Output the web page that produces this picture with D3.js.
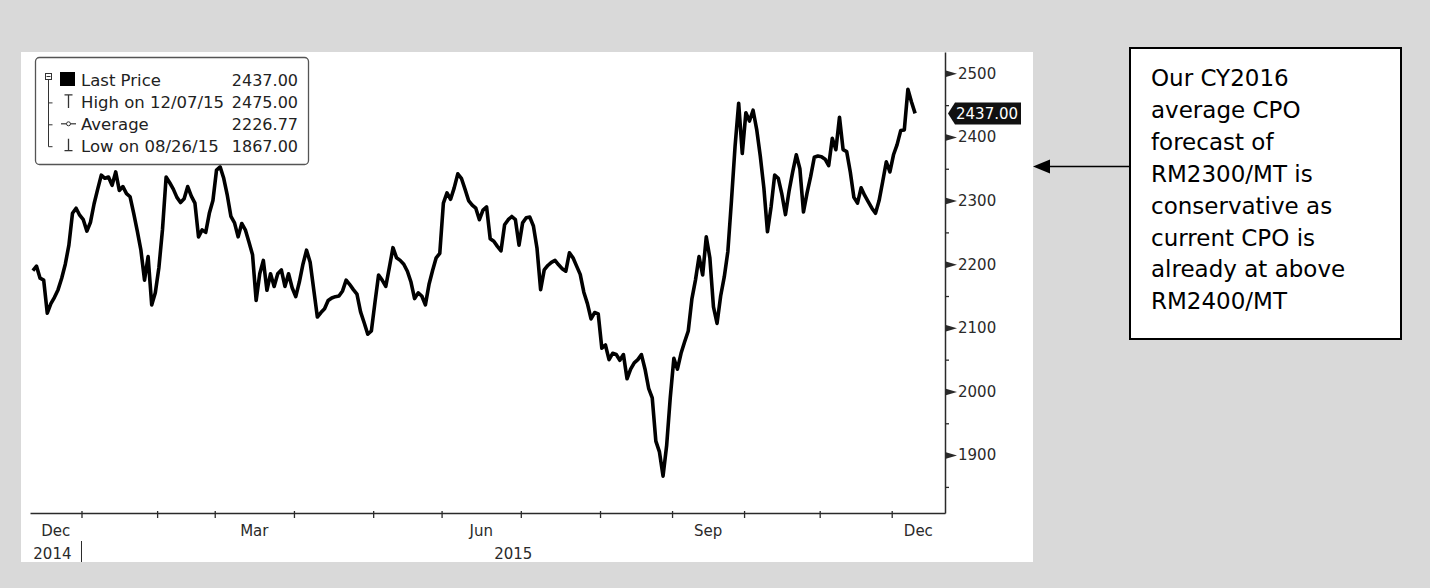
<!DOCTYPE html>
<html>
<head>
<meta charset="utf-8">
<script src="https://cdn.jsdelivr.net/npm/d3@7"></script>
<style>
  html, body { margin: 0; padding: 0; background: #d9d9d9; }
  svg { display: block; font-family: "DejaVu Sans", Verdana, sans-serif; }
</style>
</head>
<body>
<svg id="chart" width="1430" height="588"></svg>
<script>
/* ---------- Data ---------- */
// daily closes (RM/MT), one array per month, 11 Dec 2014 .. 9 Dec 2015
const closeDec14 = [2190, 2197, 2178, 2175, 2123, 2138, 2148, 2160, 2178, 2200, 2230, 2280, 2288, 2277];
const closeJan15 = [2270, 2252, 2266, 2295, 2318, 2340, 2335, 2337, 2324, 2345, 2316, 2322, 2311, 2306, 2280, 2252, 2222, 2175, 2212, 2136, 2155];
const closeFeb15 = [2195, 2255, 2337, 2328, 2318, 2305, 2297, 2303, 2322, 2307, 2296, 2243, 2254, 2250, 2280, 2300];
const closeMar15 = [2348, 2353, 2335, 2308, 2275, 2265, 2243, 2264, 2254, 2235, 2215, 2143, 2185, 2206, 2159, 2185, 2165, 2185, 2191, 2165, 2185, 2163];
const closeApr15 = [2149, 2172, 2200, 2222, 2203, 2160, 2117, 2124, 2130, 2143, 2147, 2149, 2150, 2158, 2175, 2168, 2160, 2153, 2125, 2108, 2090, 2095];
const closeMay15 = [2140, 2183, 2175, 2165, 2195, 2226, 2210, 2206, 2200, 2189, 2172, 2146, 2155, 2150, 2136, 2168, 2190, 2210, 2217];
const closeJun15 = [2296, 2312, 2302, 2320, 2342, 2335, 2318, 2300, 2293, 2288, 2270, 2285, 2290, 2240, 2236, 2228, 2221, 2262, 2270, 2275, 2270, 2230];
const closeJul15 = [2265, 2273, 2274, 2260, 2225, 2160, 2191, 2198, 2203, 2206, 2199, 2193, 2189, 2218, 2210, 2197, 2184, 2156, 2138, 2114, 2124, 2122];
const closeAug15 = [2068, 2073, 2050, 2060, 2058, 2049, 2058, 2020, 2035, 2045, 2050, 2058, 2035, 2005, 1990, 1922, 1905, 1867, 1915, 1990];
const closeSep15 = [2052, 2035, 2060, 2078, 2095, 2145, 2175, 2212, 2183, 2243, 2210, 2133, 2107, 2150, 2180, 2220, 2300, 2385, 2453, 2374];
const closeOct15 = [2438, 2425, 2442, 2412, 2370, 2320, 2251, 2290, 2340, 2335, 2310, 2278, 2315, 2345, 2372, 2350, 2282, 2312, 2338, 2368, 2370];
const closeNov15 = [2369, 2365, 2355, 2398, 2380, 2431, 2380, 2377, 2345, 2305, 2296, 2320, 2308, 2298, 2288, 2280, 2300, 2330, 2361, 2345];
const closeDec15 = [2372, 2388, 2410, 2411, 2475, 2455, 2437];

const monthlyCloses = [closeDec14, closeJan15, closeFeb15, closeMar15, closeApr15, closeMay15,
    closeJun15, closeJul15, closeAug15, closeSep15, closeOct15, closeNov15, closeDec15];
const monthLabels = ["Dec", "Jan", "Feb", "Mar", "Apr", "May", "Jun", "Jul", "Aug", "Sep", "Oct", "Nov", "Dec"];
const monthYears = [2014, 2015, 2015, 2015, 2015, 2015, 2015, 2015, 2015, 2015, 2015, 2015, 2015];
const labelledMonths = ["Dec", "Mar", "Jun", "Sep"];

const yMajorTicks = [1900, 2000, 2100, 2200, 2300, 2400, 2500];
const yMinorTicks = [1850, 1950, 2050, 2150, 2250, 2350, 2450];

const legendLabels = ["Last Price", "High on 12/07/15", "Average", "Low on 08/26/15"];
const legendValues = [2437.00, 2475.00, 2226.77, 1867.00];
const legendIcons = ["square", "high", "average", "low"];

const noteLines = ["Our CY2016", "average CPO", "forecast of", "RM2300/MT is",
    "conservative as", "current CPO is", "already at above", "RM2400/MT"];

/* ---------- Layout ---------- */
const svg = d3.select("#chart");
const panel = {x: 21, y: 52, w: 1012, h: 510};
const plot = {left: 30, right: 945, top: 52, bottom: 513};
const axisColor = "#2a2a2a";

svg.append("rect").attr("width", 1430).attr("height", 588).attr("fill", "#d9d9d9");
svg.append("rect").attr("x", panel.x).attr("y", panel.y)
    .attr("width", panel.w).attr("height", panel.h).attr("fill", "#fff");

// flatten the months into one trading-day series
const series = [];
const monthStart = [];
monthlyCloses.forEach(arr => {
    monthStart.push(series.length);
    arr.forEach(v => series.push({i: series.length, v}));
});
const n = series.length;
const xEnd = n - 1 + 8.3;

/* ---------- Scales ---------- */
const x = d3.scaleLinear().domain([-0.8, xEnd]).range([plot.left, plot.right]);
const y = d3.scaleLinear().domain([1809, 2533.5]).range([plot.bottom, plot.top]);

/* ---------- Axes ---------- */
// right value axis
const yAxis = svg.append("g")
    .attr("transform", `translate(${plot.right},0)`)
    .call(d3.axisRight(y).tickValues(yMajorTicks).tickSize(0).tickSizeOuter(0)
        .tickPadding(13).tickFormat(d3.format("d")))
    .attr("font-family", null).attr("font-size", 15);
yAxis.select(".domain").attr("stroke", axisColor).attr("stroke-width", 1.5);
yAxis.selectAll(".tick text").attr("fill", axisColor);
yAxis.selectAll(".tick").append("path")
    .attr("d", "M0,-3.5L12,0L0,3.5Z").attr("fill", axisColor);

const yMinor = svg.append("g")
    .attr("transform", `translate(${plot.right},0)`)
    .call(d3.axisRight(y).tickValues(yMinorTicks).tickSize(4).tickSizeOuter(0).tickFormat(""));
yMinor.select(".domain").remove();
yMinor.selectAll(".tick line").attr("stroke", axisColor).attr("stroke-width", 1.3);

// bottom time axis (ticks sit between last and first trading day of a month)
const xAxis = svg.append("g")
    .attr("transform", `translate(0,${plot.bottom})`)
    .call(d3.axisBottom(x).tickValues(monthStart.slice(1).map(i => i - 0.5))
        .tickSize(5).tickSizeOuter(0).tickFormat(""));
xAxis.select(".domain").attr("stroke", axisColor).attr("stroke-width", 1.5);
xAxis.selectAll(".tick line").attr("y1", -2).attr("stroke", axisColor).attr("stroke-width", 1.3);

// month labels, centred in their month
monthLabels.forEach((lab, m) => {
    if (!labelledMonths.includes(lab)) return;
    const a = m === 0 ? -0.8 : monthStart[m] - 0.5;
    const b = m === monthLabels.length - 1 ? xEnd : monthStart[m + 1] - 0.5;
    svg.append("text")
        .attr("x", (x(a) + x(b)) / 2).attr("y", 536)
        .attr("text-anchor", "middle").attr("font-size", 15).attr("fill", axisColor)
        .text(lab);
});

// year labels and separators
const years = [...new Set(monthYears)];
years.forEach((yr, k) => {
    const firstM = monthYears.indexOf(yr);
    const lastM = monthYears.lastIndexOf(yr);
    const a = firstM === 0 ? -0.8 : monthStart[firstM] - 0.5;
    const b = lastM === monthYears.length - 1 ? xEnd : monthStart[lastM + 1] - 0.5;
    if (k > 0) {
        svg.append("line").attr("x1", x(a)).attr("x2", x(a))
            .attr("y1", 541).attr("y2", 562).attr("stroke", axisColor);
    }
    const first = k === 0;
    svg.append("text")
        .attr("x", first ? x(b) - 10 : (x(a) + x(b)) / 2).attr("y", 559)
        .attr("text-anchor", first ? "end" : "middle")
        .attr("font-size", 15).attr("fill", axisColor)
        .text(yr);
});

/* ---------- Price line ---------- */
svg.append("path")
    .datum(series)
    .attr("fill", "none")
    .attr("stroke", "#000")
    .attr("stroke-width", 3.6)
    .attr("stroke-linejoin", "round")
    .attr("d", d3.line().x(d => x(d.i)).y(d => y(d.v)));

// last price tag on the axis
const last = series[n - 1].v;
const ly = y(last);
svg.append("path")
    .attr("d", `M${plot.right + 3},${ly}L${plot.right + 10},${ly - 11}H${plot.right + 76}V${ly + 11}H${plot.right + 10}Z`)
    .attr("fill", "#111");
svg.append("text")
    .attr("x", plot.right + 11).attr("y", ly).attr("dy", "0.35em")
    .attr("font-size", 15).attr("fill", "#fff")
    .text(last.toFixed(2));

/* ---------- Legend ---------- */
const lg = svg.append("g");
lg.append("rect").attr("x", 35.5).attr("y", 57.5).attr("width", 273).attr("height", 107)
    .attr("rx", 4).attr("fill", "#fff").attr("stroke", "#555").attr("stroke-width", 1.3);

const rowY = k => 86 + 21.9 * k;
const ic = "#333";
// tree guide
lg.append("rect").attr("x", 45.5).attr("y", 73.5).attr("width", 6).attr("height", 6)
    .attr("fill", "#fff").attr("stroke", ic);
lg.append("line").attr("x1", 46.5).attr("x2", 50.5).attr("y1", 76.5).attr("y2", 76.5).attr("stroke", ic);
lg.append("line").attr("x1", 48.5).attr("x2", 48.5).attr("y1", 79.5).attr("y2", rowY(3) - 5).attr("stroke", ic);
[1, 2, 3].forEach(k => {
    lg.append("line").attr("x1", 48.5).attr("x2", 52.5)
        .attr("y1", rowY(k) - 5).attr("y2", rowY(k) - 5).attr("stroke", ic);
});

legendLabels.forEach((lab, k) => {
    const by = rowY(k);
    const cy = by - 6;
    const icon = legendIcons[k];
    if (icon === "square") {
        lg.append("rect").attr("x", 60).attr("y", by - 14).attr("width", 15).attr("height", 14).attr("fill", "#000");
    } else if (icon === "high") {
        lg.append("path").attr("d", `M64.5,${by - 13}H72.5M68.5,${by - 13}V${by}`)
            .attr("stroke", ic).attr("stroke-width", 1.3).attr("fill", "none");
    } else if (icon === "average") {
        lg.append("line").attr("x1", 61).attr("x2", 76).attr("y1", cy).attr("y2", cy).attr("stroke", ic).attr("stroke-width", 1.2);
        lg.append("circle").attr("cx", 68.5).attr("cy", cy).attr("r", 2).attr("fill", "#fff").attr("stroke", ic);
    } else {
        lg.append("path").attr("d", `M68.5,${by - 13}V${by - 1}M64.5,${by - 1}H72.5`)
            .attr("stroke", ic).attr("stroke-width", 1.3).attr("fill", "none");
    }
    lg.append("text").attr("x", 81).attr("y", by)
        .attr("font-size", 16.5).attr("fill", "#222").text(lab);
    lg.append("text").attr("x", 298).attr("y", by).attr("text-anchor", "end")
        .attr("font-size", 16).attr("fill", "#222").text(legendValues[k].toFixed(2));
});

/* ---------- Note box + arrow ---------- */
const note = {x: 1130, y: 48, w: 271, h: 291};
svg.append("rect").attr("x", note.x).attr("y", note.y).attr("width", note.w).attr("height", note.h)
    .attr("fill", "#fff").attr("stroke", "#000").attr("stroke-width", 2);
noteLines.forEach((t, k) => {
    svg.append("text").attr("x", note.x + 21).attr("y", 86 + 31.9 * k)
        .attr("font-size", 23).attr("fill", "#000").text(t);
});

const ay = 166.5;
svg.append("line").attr("x1", note.x).attr("x2", 1048).attr("y1", ay).attr("y2", ay)
    .attr("stroke", "#000").attr("stroke-width", 1.7);
svg.append("path").attr("d", `M1033,${ay}L1050,${ay - 7}L1050,${ay + 7}Z`).attr("fill", "#000");
</script>
</body>
</html>
